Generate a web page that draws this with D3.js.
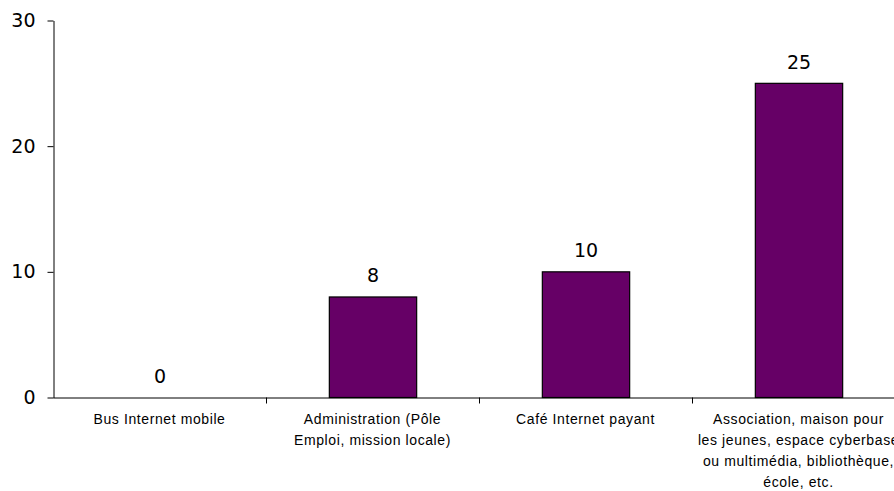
<!DOCTYPE html>
<html><head><meta charset="utf-8">
<script src="https://cdn.jsdelivr.net/npm/d3@7"></script>
<style>body{margin:0;background:#fff}svg{display:block}</style>
</head><body>
<svg id="c" width="894" height="491"></svg>
<script>
const categories = ["Bus Internet mobile","Administration (Pôle Emploi, mission locale)","Café Internet payant","Association, maison pour les jeunes, espace cyberbase ou multimédia, bibliothèque, école, etc."];
const categoryLines = [
  ["Bus Internet mobile"],
  ["Administration (Pôle","Emploi, mission locale)"],
  ["Café Internet payant"],
  ["Association, maison pour","les jeunes, espace cyberbase","ou multimédia, bibliothèque,","école, etc."]
];
const values = [0, 8, 10, 25];
const yTicks = [0, 10, 20, 30];

const svg = d3.select("#c");
const x = d3.scaleBand().domain(categories).range([53, 905]).padding(0);
const y = d3.scaleLinear().domain([0, 30]).range([397, 20]);
const bw = x.bandwidth() * 0.41;

// bars
svg.append("g").selectAll("rect").data(values).join("rect")
  .attr("x", (d,i) => x(categories[i]) + (x.bandwidth()-bw)/2 + 0.5)
  .attr("y", d => y(d) + 0.5)
  .attr("width", bw)
  .attr("height", d => y(0) - y(d))
  .attr("fill", "#660066")
  .attr("stroke", "#000")
  .attr("stroke-width", 1.2)
  .style("display", d => d === 0 ? "none" : null);

// value labels
svg.append("g").selectAll("text").data(values).join("text")
  .attr("x", (d,i) => x(categories[i]) + x.bandwidth()/2 + 0.5)
  .attr("y", d => y(d) - 14)
  .attr("text-anchor", "middle")
  .attr("font-family", "DejaVu Sans, Verdana, sans-serif")
  .attr("font-size", 19)
  .attr("fill", "#000")
  .text(d => d);

// y axis
const yAxis = d3.axisLeft(y).tickValues(yTicks).tickSize(6).tickPadding(12).tickSizeOuter(0);
const gy = svg.append("g").attr("transform", "translate(53.5,0.5)").call(yAxis);
gy.select(".domain").attr("stroke", "#000");
gy.selectAll(".tick line").attr("stroke", "#000");
gy.selectAll(".tick text").attr("font-family", "DejaVu Sans, Verdana, sans-serif").attr("font-size", 19).attr("fill", "#000");

// x axis
const xAxis = d3.axisBottom(x).tickSize(0).tickFormat("");
const gx = svg.append("g").attr("transform", `translate(0,${y(0)+0.5})`).call(xAxis);
gx.select(".domain").attr("stroke", "#000");
// category separators
const seps = categories.map(c => x(c)).concat([x(categories[categories.length-1]) + x.bandwidth()]).slice(1);
gx.selectAll(".sep").data(seps).join("line").attr("class","sep")
  .attr("x1", d => d + 0.5).attr("x2", d => d + 0.5).attr("y1", 0).attr("y2", 6)
  .attr("stroke", "#000");

// category labels
const lab = svg.append("g").selectAll("text").data(categoryLines).join("text")
  .attr("text-anchor", "middle")
  .attr("font-family", "Liberation Sans, Arial, sans-serif")
  .attr("font-size", 14)
  .attr("letter-spacing", "0.6px")
  .attr("fill", "#000");
lab.each(function(lines, i) {
  const t = d3.select(this);
  lines.forEach((ln, j) => {
    t.append("tspan")
      .attr("x", x(categories[i]) + x.bandwidth()/2)
      .attr("y", 424 + j * 21)
      .text(ln);
  });
});
</script>
</body></html>
